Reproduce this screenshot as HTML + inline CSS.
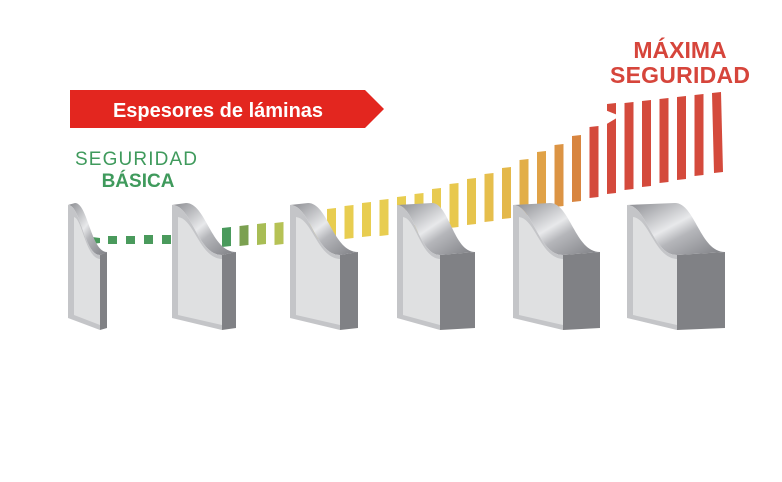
<!DOCTYPE html>
<html><head><meta charset="utf-8"><style>
html,body{margin:0;padding:0;background:#fff;width:782px;height:482px;overflow:hidden}
svg{display:block}
text{font-family:"Liberation Sans",Arial,sans-serif;font-weight:bold}
</style></head><body>
<svg id="s" width="782" height="482" viewBox="0 0 782 482" xmlns="http://www.w3.org/2000/svg">
<defs>
<linearGradient id="met" x1="0" y1="0" x2="1" y2="1">
<stop offset="0" stop-color="#8a8b90"/><stop offset="0.45" stop-color="#e8e9eb"/><stop offset="0.6" stop-color="#b5b6ba"/><stop offset="1" stop-color="#7d7e83"/>
</linearGradient>
</defs>
<polygon points="70,90 365,90 384,109 365,128 70,128" fill="#e3261f"/>
<text x="136" y="165" font-size="19" fill="#3f9a5c" text-anchor="middle" style="font-weight:normal" textLength="122">SEGURIDAD</text>
<text x="138" y="187" font-size="19" fill="#3f9a5c" text-anchor="middle">BÁSICA</text>
<text x="218" y="117" font-size="20" fill="#fff" text-anchor="middle">Espesores de láminas</text>
<text x="680" y="58" font-size="23" fill="#d6453b" text-anchor="middle">MÁXIMA</text>
<text x="680" y="83" font-size="23" fill="#d6453b" text-anchor="middle" textLength="140">SEGURIDAD</text>
<g>
<polygon points="92,237 100,238 100,243 92,244" fill="#4a9a5c"/>
<rect x="108" y="236" width="9" height="8" fill="#4a9a5c"/>
<rect x="126" y="236" width="9" height="8" fill="#4a9a5c"/>
<rect x="144" y="235" width="9" height="9" fill="#4a9a5c"/>
<rect x="162" y="235" width="9" height="9" fill="#4a9a5c"/>
<polygon points="222,228 231,227 231,246 222,247" fill="#4a9a5c"/>
<polygon points="239.5,226 248.5,225 248.5,245 239.5,246" fill="#7ba050"/>
<polygon points="257,224 266,223 266,244 257,245" fill="#a8bd55"/>
<polygon points="274.5,223 283.5,222 283.5,244 274.5,245" fill="#b6c255"/>
<polygon points="292,220 301,219 301,243 292,244" fill="#cfc655"/>
<polygon points="309.5,215 318.5,214 318.5,241 309.5,242" fill="#e0ca52"/>
<polygon points="327,209 336,208 336,239 327,240" fill="#e8cd50"/>
<polygon points="344.5,206 353.5,205 353.5,238 344.5,239" fill="#e8cd50"/>
<polygon points="362,203 371,202 371,236 362,237" fill="#e8cd50"/>
<polygon points="379.5,200 388.5,199 388.5,235 379.5,236" fill="#e8cd50"/>
<polygon points="397,197 406,196 406,233 397,234" fill="#e8cd50"/>
<polygon points="414.5,194 423.5,193 423.5,232 414.5,233" fill="#e8cc50"/>
<polygon points="432,189 441,188 441,229 432,230" fill="#e8ca50"/>
<polygon points="449.5,184 458.5,183 458.5,227 449.5,228" fill="#e8c84e"/>
<polygon points="467,179 476,178 476,224 467,225" fill="#e6c44d"/>
<polygon points="484.5,174 493.5,173 493.5,221 484.5,222" fill="#e6be4c"/>
<polygon points="502,168 511,167 511,218 502,219" fill="#e4b84a"/>
<polygon points="519.5,160 528.5,159 528.5,215 519.5,216" fill="#e2ae48"/>
<polygon points="537,152 546,151 546,210 537,211" fill="#e0a247"/>
<polygon points="554.5,145 563.5,144 563.5,206 554.5,207" fill="#dc9444"/>
<polygon points="572,136 581,135 581,201 572,202" fill="#d88540"/>
<polygon points="589.5,127 598.5,126 598.5,197 589.5,198" fill="#d44a3c"/>
<polygon points="607,104 616,103 616,193 607,194" fill="#d44a3c"/>
<polygon points="624.5,103 633.5,102 633.5,189 624.5,190" fill="#d44a3c"/>
<polygon points="642,101 651,100 651,186 642,187" fill="#d44a3c"/>
<polygon points="659.5,99 668.5,98 668.5,182 659.5,183" fill="#d44a3c"/>
<polygon points="677,97 686,96 686,179 677,180" fill="#d44a3c"/>
<polygon points="694.5,95 703.5,94 703.5,175 694.5,176" fill="#d44a3c"/>
<polygon points="712,93 721,92 723,172 714,173" fill="#d44a3c"/>
<polygon points="585,102 620,116 605,125" fill="#fff"/>
</g>
<g id="panes"></g>
</svg>
<script>
var ns="http://www.w3.org/2000/svg";
function el(t,a,p){var e=document.createElementNS(ns,t);for(var k in a)e.setAttribute(k,a[k]);p.appendChild(e);return e;}
var pg=document.getElementById("panes");
var P=[[68,100,107],[172,222,236],[290,340,358],[397,440,475],[513,563,600],[627,677,725]];
P.forEach(function(p){var L=p[0],R=p[1],S=p[2],top=205,ce=255,bl=318,br=330;
el("polygon",{points:R+","+ce+" "+S+","+(ce-3)+" "+S+","+(br-2)+" "+R+","+br,fill:"#808185"},pg);
var d="M"+L+","+top+" L"+(L+(S-R))+","+(top-2)+" C"+(L+(S-R)+(R-L)*0.4)+","+(top-2)+" "+(R+(S-R)-(R-L)*0.5)+","+(ce-3)+" "+S+","+(ce-3)+" L"+R+","+ce+" C"+(R-(R-L)*0.5)+","+ce+" "+(L+(R-L)*0.4)+","+top+" "+L+","+top+"Z";
el("path",{d:d,fill:"url(#met)"},pg);
el("path",{d:"M"+L+","+top+" C"+(L+(R-L)*0.4)+","+top+" "+(R-(R-L)*0.5)+","+ce+" "+R+","+ce+" L"+R+","+br+" L"+L+","+bl+"Z",fill:"#c4c5c8"},pg);
el("path",{d:"M"+(L+6)+","+(top+12)+" C"+(L+(R-L)*0.45)+","+(top+14)+" "+(R-(R-L)*0.45)+","+(ce+3)+" "+R+","+(ce+4)+" L"+R+","+(br-5)+" L"+(L+6)+","+(bl-3)+"Z",fill:"#dfe0e1"},pg);
});
</script>
</body></html>
